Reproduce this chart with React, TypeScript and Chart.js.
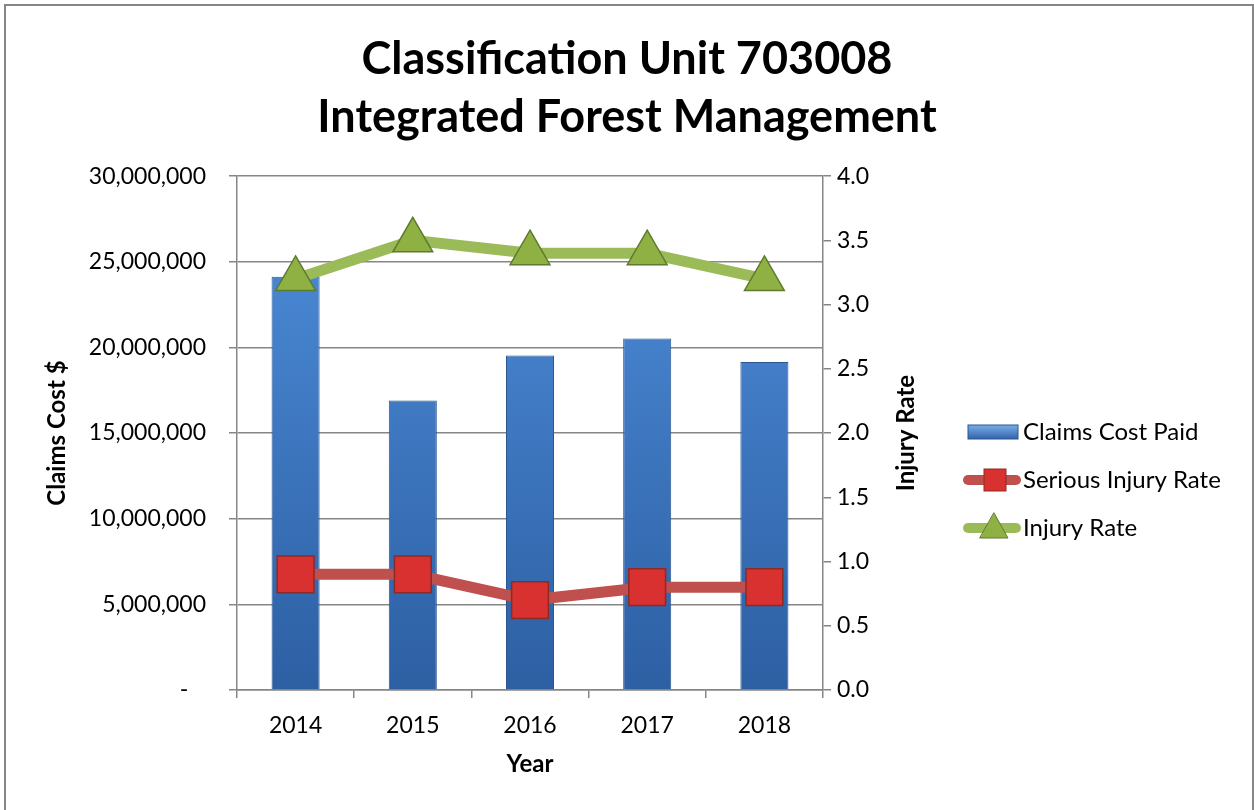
import React, { useEffect, useRef } from "react";
import { Chart, registerables } from "chart.js";

Chart.register(...registerables);

const years = ["2014", "2015", "2016", "2017", "2018"];
const claimsCostPaid = [24130000, 16900000, 19530000, 20520000, 19150000];
const seriousInjuryRate = [0.9, 0.9, 0.7, 0.8, 0.8];
const injuryRate = [3.2, 3.5, 3.4, 3.4, 3.2];
const leftTicks = [0, 5000000, 10000000, 15000000, 20000000, 25000000, 30000000];
const rightTicks = [0, 0.5, 1, 1.5, 2, 2.5, 3, 3.5, 4];

const FONT = "Lato, 'Open Sans', sans-serif";
const GRAY = "#868686";
const BLUE_TOP = "#4f8fdc";
const BLUE_BOTTOM = "#2d5fa3";
const RED = "#c0504d";
const RED_MARK = "#d8312f";
const GREEN = "#9bbb59";
const GREEN_MARK = "#8fb042";

const decorPlugin = {
  id: "decor",
  afterDraw(chart: any) {
    const c = chart.ctx;
    const area = chart.chartArea;
    c.save();
    // outer border
    c.strokeStyle = GRAY;
    c.lineWidth = 2;
    c.strokeRect(5, 5, 1248, 820);

    // right axis title (reads bottom to top)
    c.save();
    c.translate(906, (area.top + area.bottom) / 2);
    c.rotate(-Math.PI / 2);
    c.fillStyle = "#000";
    c.font = `bold 24px ${FONT}`;
    c.textAlign = "center";
    c.textBaseline = "middle";
    c.fillText("Injury Rate", 0, 0);
    c.restore();

    // legend
    const items = [
      { label: "Claims Cost Paid", kind: "bar", y: 432 },
      { label: "Serious Injury Rate", kind: "rect", y: 480 },
      { label: "Injury Rate", kind: "tri", y: 528 },
    ];
    const sx = 963;
    const ex = 1021;
    items.forEach((it) => {
      if (it.kind === "bar") {
        const g = c.createLinearGradient(0, it.y - 8, 0, it.y + 8);
        g.addColorStop(0, "#7db3ee");
        g.addColorStop(1, BLUE_BOTTOM);
        c.fillStyle = g;
        c.fillRect(sx + 5, it.y - 7, ex - sx - 8, 14);
        c.strokeStyle = "#2a5590";
        c.lineWidth = 1;
        c.strokeRect(sx + 5, it.y - 7, ex - sx - 8, 14);
      } else {
        c.strokeStyle = it.kind === "rect" ? RED : GREEN;
        c.lineWidth = 10;
        c.lineCap = "round";
        c.beginPath();
        c.moveTo(sx + 5, it.y);
        c.lineTo(ex - 5, it.y);
        c.stroke();
        if (it.kind === "rect") {
          c.fillStyle = RED_MARK;
          c.strokeStyle = "#8c2a28";
          c.lineWidth = 1;
          c.fillRect(sx + 21, it.y - 11, 22, 22);
          c.strokeRect(sx + 21, it.y - 11, 22, 22);
        } else {
          c.fillStyle = GREEN_MARK;
          c.strokeStyle = "#5e7a2c";
          c.lineWidth = 1;
          c.beginPath();
          c.moveTo(sx + 31, it.y - 15);
          c.lineTo(sx + 45, it.y + 10);
          c.lineTo(sx + 17, it.y + 10);
          c.closePath();
          c.fill();
          c.stroke();
        }
      }
      c.fillStyle = "#000";
      c.font = `24px ${FONT}`;
      c.textAlign = "left";
      c.textBaseline = "middle";
      c.fillText(it.label, ex + 2, it.y);
    });
    c.restore();
  },
};

export default function App() {
  const ref = useRef<HTMLCanvasElement>(null);
  useEffect(() => {
    const canvas = ref.current;
    if (!canvas) return;
    const chart = new Chart(canvas, {
      type: "bar",
      data: {
        labels: years,
        datasets: [
          {
            type: "line",
            label: "Injury Rate",
            data: injuryRate,
            yAxisID: "y1",
            borderColor: GREEN,
            borderWidth: 11,
            pointStyle: "triangle",
            pointRadius: 23,
            pointBackgroundColor: GREEN_MARK,
            pointBorderColor: "#5e7a2c",
            pointBorderWidth: 1.5,
            order: 1,
          } as any,
          {
            type: "line",
            label: "Serious Injury Rate",
            data: seriousInjuryRate,
            yAxisID: "y1",
            borderColor: RED,
            borderWidth: 11,
            pointStyle: "rect",
            pointRadius: 26,
            pointBackgroundColor: RED_MARK,
            pointBorderColor: "#8c2a28",
            pointBorderWidth: 1.5,
            order: 2,
          } as any,
          {
            type: "bar",
            label: "Claims Cost Paid",
            data: claimsCostPaid,
            yAxisID: "y",
            backgroundColor: (ctx: any) => {
              const { chart } = ctx;
              const area = chart.chartArea;
              if (!area) return BLUE_BOTTOM;
              const g = chart.ctx.createLinearGradient(0, area.top, 0, area.bottom);
              g.addColorStop(0, BLUE_TOP);
              g.addColorStop(1, BLUE_BOTTOM);
              return g;
            },
            borderColor: "#2a5590",
            borderWidth: 1,
            barPercentage: 0.82,
            categoryPercentage: 0.5,
            order: 3,
          } as any,
        ],
      },
      options: {
        responsive: false,
        animation: false,
        layout: { padding: 0 },
        plugins: {
          legend: { display: false },
          tooltip: { enabled: false },
          title: {
            display: true,
            text: ["Classification Unit 703008", "Integrated Forest Management"],
            color: "#000",
            font: { family: FONT, size: 45, weight: "bold", lineHeight: 1.29 },
            padding: { top: 30, bottom: 30 },
          },
        },
        scales: {
          x: {
            offset: true,
            grid: {
              offset: true,
              drawOnChartArea: false,
              drawTicks: true,
              tickLength: 8,
              color: GRAY,
              lineWidth: 1.5,
            },
            border: { display: true, color: GRAY, width: 1.5 },
            ticks: { color: "#000", font: { family: FONT, size: 23 }, padding: 14 },
            title: {
              display: true,
              text: "Year",
              color: "#000",
              font: { family: FONT, size: 24, weight: "bold", lineHeight: 1.2 },
              padding: { top: 0, bottom: 31 },
            },
            afterFit: (s: any) => {
              s.height = 120;
            },
          },
          y: {
            position: "left",
            min: 0,
            max: 30000000,
            afterBuildTicks: (s: any) => {
              s.ticks = leftTicks.map((v) => ({ value: v }));
            },
            grid: { color: GRAY, lineWidth: 1.5, tickLength: 8, drawTicks: true },
            border: { display: true, color: GRAY, width: 1.5 },
            ticks: {
              color: "#000",
              font: { family: FONT, size: 23 },
              padding: 23,
              callback: (v: any) => (Number(v) === 0 ? "-   " : Number(v).toLocaleString("en-US")),
            },
            title: {
              display: true,
              text: "Claims Cost $",
              color: "#000",
              font: { family: FONT, size: 24, weight: "bold", lineHeight: 1.2 },
              padding: { top: 43, bottom: 0 },
            },
            afterFit: (s: any) => {
              s.width = 237;
            },
          },
          y1: {
            position: "right",
            min: 0,
            max: 4,
            afterBuildTicks: (s: any) => {
              s.ticks = rightTicks.map((v) => ({ value: v }));
            },
            grid: { drawOnChartArea: false, color: GRAY, lineWidth: 1.5, tickLength: 8, drawTicks: true },
            border: { display: true, color: GRAY, width: 1.5 },
            ticks: {
              color: "#000",
              font: { family: FONT, size: 23 },
              padding: 6,
              callback: (v: any) => Number(v).toFixed(1),
            },
            afterFit: (s: any) => {
              s.width = 431;
            },
          },
        },
      },
      plugins: [decorPlugin],
    });
    return () => chart.destroy();
  }, []);

  return (
    <div style={{ position: "fixed", left: 0, top: 0, width: 1254, height: 810, background: "#fff" }}>
      <canvas ref={ref} width={1254} height={810} style={{ display: "block" }} />
    </div>
  );
}
